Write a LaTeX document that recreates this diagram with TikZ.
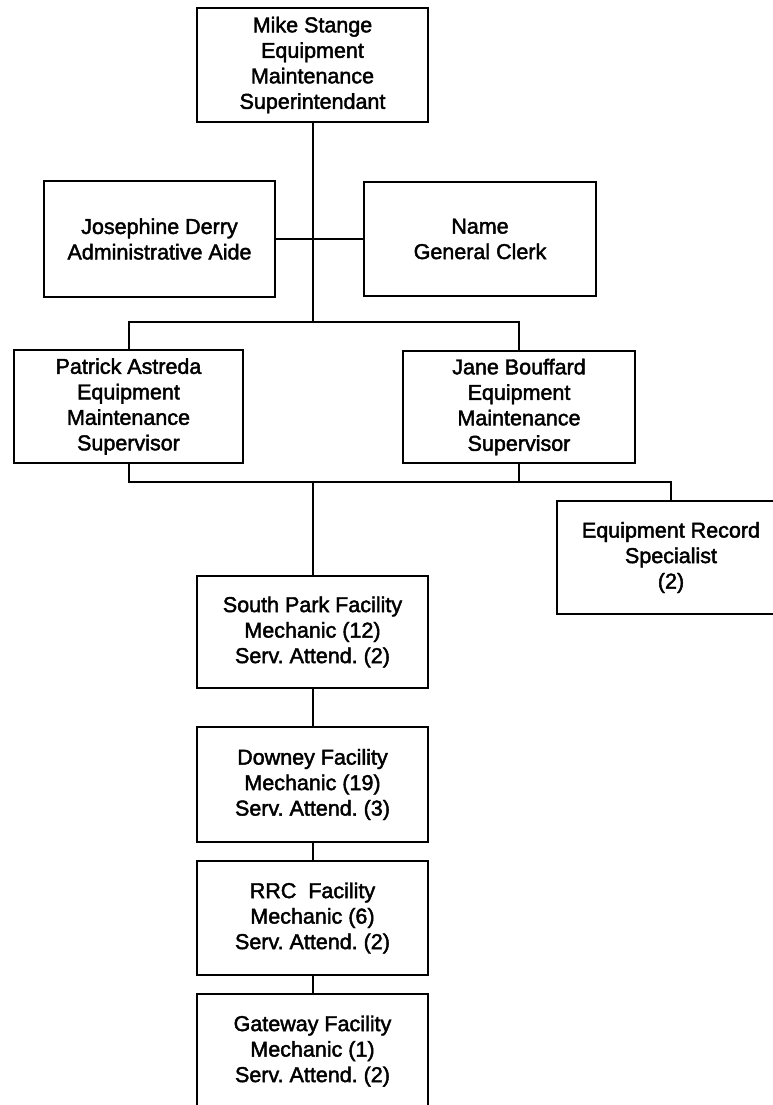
\documentclass[tikz,border=0pt]{standalone}
\usepackage{fontspec}
\setmainfont{Liberation Sans}
\newfontfamily\orgfont{Liberation Sans}[FakeBold=2]
\frenchspacing
\begin{document}
\begin{tikzpicture}[x=1pt,y=-1pt,
  line width=2pt,
  orgbox/.style={draw=black, rectangle, inner sep=0pt, align=center,
    font=\orgfont\fontsize{21.5}{25.5}\selectfont, text=black, line width=2pt},
  conn/.style={draw=black, line width=2pt}]
\useasboundingbox (0,0) rectangle (772,1105);
\fill[white] (0,0) rectangle (772,1105);

\node[orgbox, minimum width=231pt, minimum height=114pt] (ms) at (312.5,65)
  {Mike Stange\\Equipment\\Maintenance\\Superintendant};
\node[orgbox, minimum width=231pt, minimum height=116pt] (jd) at (159.5,239)
  {Josephine Derry\\Administrative Aide};
\node[orgbox, minimum width=232pt, minimum height=114pt] (gc) at (480,239)
  {Name\\General Clerk};
\node[orgbox, minimum width=229pt, minimum height=113pt] (pa) at (128.5,406.5)
  {Patrick Astreda\\Equipment\\Maintenance\\Supervisor};
\node[orgbox, minimum width=232pt, minimum height=112pt] (jb) at (519,407)
  {Jane Bouffard\\Equipment\\Maintenance\\Supervisor};
\node[orgbox, minimum width=228pt, minimum height=113pt] (ers) at (671,557.5)
  {Equipment Record\\Specialist\\(2)};
\node[orgbox, minimum width=231pt, minimum height=112pt] (sp) at (312.5,632)
  {South Park Facility\\Mechanic (12)\\Serv. Attend. (2)};
\node[orgbox, minimum width=231pt, minimum height=115pt] (dw) at (312.5,784.5)
  {Downey Facility\\Mechanic (19)\\Serv. Attend. (3)};
\node[orgbox, minimum width=231pt, minimum height=114pt] (rrc) at (312.5,918)
  {RRC\ \ Facility\\Mechanic (6)\\Serv. Attend. (2)};
\node[orgbox, minimum width=231pt, minimum height=114pt] (gw) at (312.5,1051)
  {Gateway Facility\\Mechanic (1)\\Serv. Attend. (2)};

\coordinate (bar1) at (ms.south |- 0,322);
\coordinate (bar2) at (ms.south |- 0,482);

\draw[conn] (ms.south) -- (bar1);
\draw[conn] (jd.east) -- (gc.west);
\draw[conn] (pa.north) |- (bar1) -| (jb.north);
\draw[conn] (pa.south) |- (bar2) -| (ers.north);
\draw[conn] (jb.south) -- (jb.south |- bar2);
\draw[conn] (bar2) -- (sp.north);
\draw[conn] (sp.south) -- (dw.north);
\draw[conn] (dw.south) -- (rrc.north);
\draw[conn] (rrc.south) -- (gw.north);
\end{tikzpicture}
\end{document}
